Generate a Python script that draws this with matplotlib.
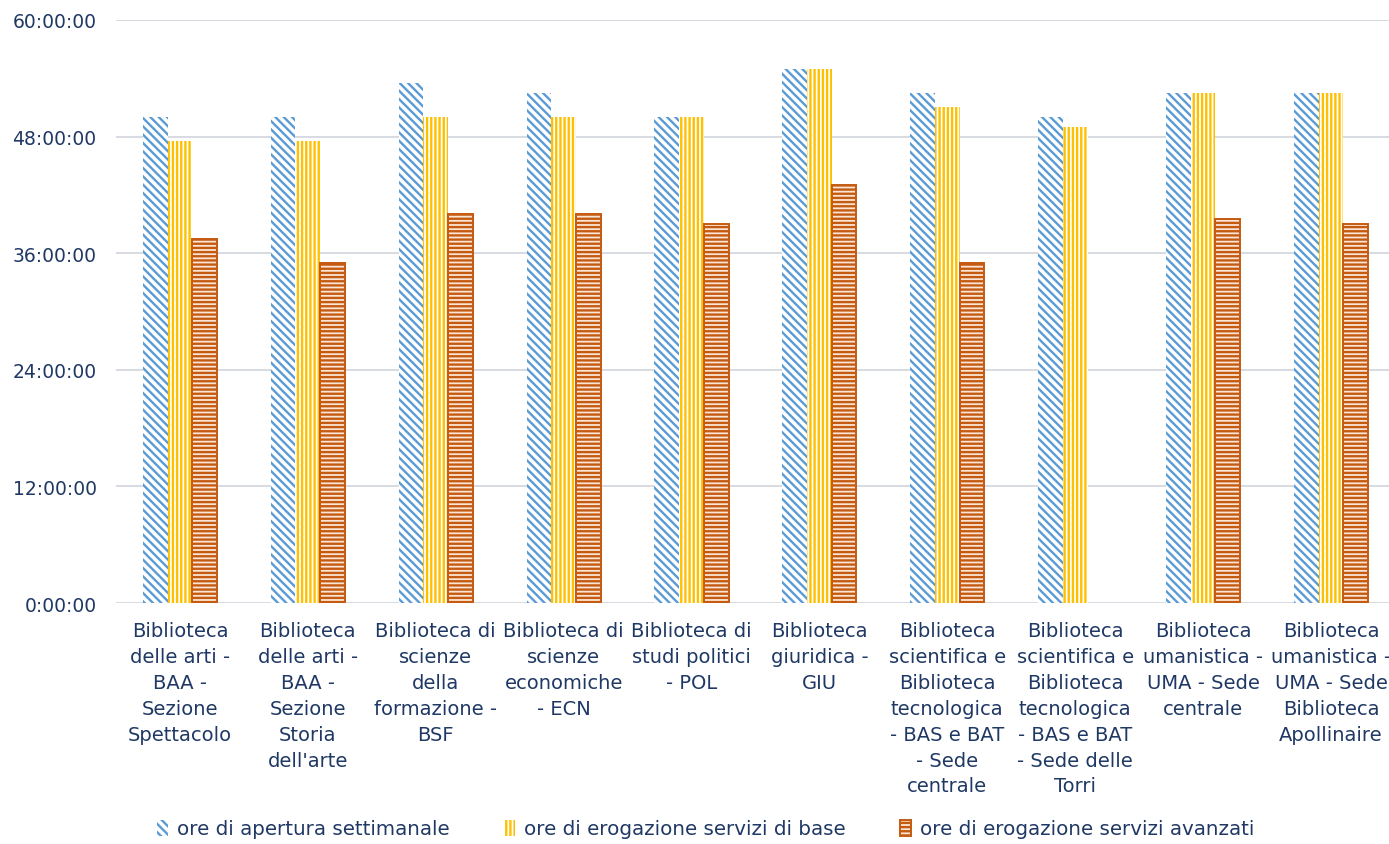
import matplotlib
matplotlib.use("Agg")
import matplotlib.pyplot as plt
from matplotlib.ticker import FuncFormatter, MultipleLocator
import numpy as np

biblioteche = [
    "Biblioteca\ndelle arti -\nBAA -\nSezione\nSpettacolo",
    "Biblioteca\ndelle arti -\nBAA -\nSezione\nStoria\ndell'arte",
    "Biblioteca di\nscienze\ndella\nformazione -\nBSF",
    "Biblioteca di\nscienze\neconomiche\n- ECN",
    "Biblioteca di\nstudi politici\n- POL",
    "Biblioteca\ngiuridica -\nGIU",
    "Biblioteca\nscientifica e\nBiblioteca\ntecnologica\n- BAS e BAT\n- Sede\ncentrale",
    "Biblioteca\nscientifica e\nBiblioteca\ntecnologica\n- BAS e BAT\n- Sede delle\nTorri",
    "Biblioteca\numanistica -\nUMA - Sede\ncentrale",
    "Biblioteca\numanistica -\nUMA - Sede\nBiblioteca\nApollinaire",
]

# ore settimanali (None = dato mancante)
apertura = [50, 50, 53.5, 52.5, 50, 55, 52.5, 50, 52.5, 52.5]
servizi_base = [47.5, 47.5, 50, 50, 50, 55, 51, 49, 52.5, 52.5]
servizi_avanzati = [37.5, 35, 40, 40, 39, 43, 35, None, 39.5, 39]

serie = ["ore di apertura settimanale",
         "ore di erogazione servizi di base",
         "ore di erogazione servizi avanzati"]

testo = "#1F3864"
plt.rcParams["hatch.linewidth"] = 1.7

fig = plt.figure(figsize=(13.89, 8.45), dpi=100)
ax = fig.add_axes([0.0835, 0.2852, 0.918, 0.690])

x = np.arange(len(biblioteche))
w = 0.193
avanzati = np.array(servizi_avanzati, dtype=float)
ax.bar(x - w, apertura, w, facecolor="white", edgecolor="#5B9BD5",
       hatch="\\\\\\\\", linewidth=0, label=serie[0], zorder=3)
ax.bar(x, servizi_base, w, facecolor="white", edgecolor="#FFC000",
       hatch="||||", linewidth=0, label=serie[1], zorder=3)
ax.bar(x + w, avanzati, w, facecolor="#FBE5D6", edgecolor="#C55A11",
       hatch="----", linewidth=1.4, label=serie[2], zorder=3)

ax.set_xlim(-0.5, 9.47)
ax.set_ylim(0, 60)
ax.yaxis.set_major_locator(MultipleLocator(12))
ax.yaxis.set_major_formatter(FuncFormatter(lambda v, p: f"{int(v)}:00:00"))
ax.grid(axis="y", color="#D6D8E0", linewidth=1.3, zorder=0)
for s in ax.spines.values():
    s.set_visible(False)
ax.tick_params(length=0, colors=testo)
ax.tick_params(axis="y", pad=14, labelsize=13.5)
ax.set_xticks(x)
ax.set_xticklabels(biblioteche, linespacing=1.46, color=testo, fontsize=14)
ax.tick_params(axis="x", pad=13)

fig.legend(loc="center", bbox_to_anchor=(0.508, 1 - 830 / 845), ncol=3,
           frameon=False, fontsize=14.3, handlelength=0.55, handleheight=0.85,
           handletextpad=0.45, columnspacing=2.75, labelcolor=testo)

fig.savefig("out.png", dpi=100)
